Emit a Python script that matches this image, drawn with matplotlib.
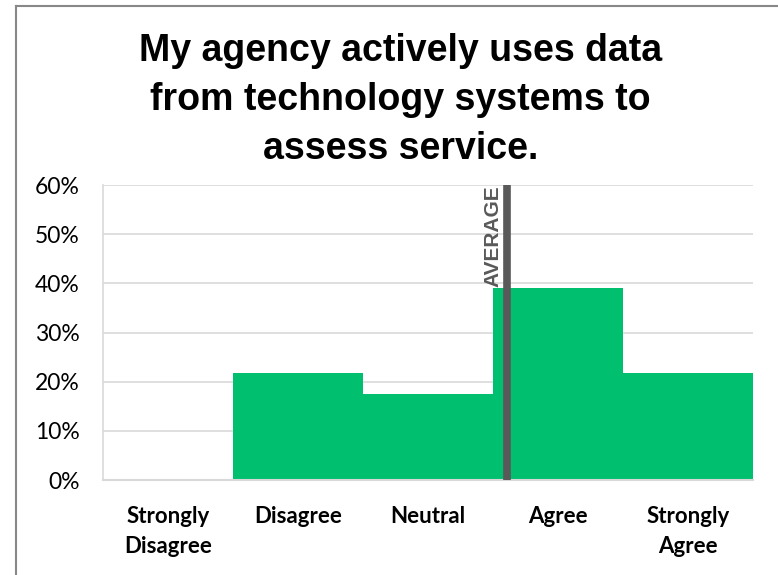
import matplotlib.pyplot as plt
from matplotlib.lines import Line2D
from matplotlib.ticker import PercentFormatter

# survey responses (share of respondents)
categories = ['Strongly\nDisagree', 'Disagree', 'Neutral', 'Agree', 'Strongly\nAgree']
shares = [0.0, 21.7, 17.4, 39.1, 21.7]
scores = [1, 2, 3, 4, 5]
average = sum(s * v for s, v in zip(scores, shares)) / sum(shares)

fig = plt.figure(figsize=(7.78, 5.75), dpi=100)
ax = fig.add_axes([0.1324, 0.1652, 0.8356, 0.513])

# bars touch each other, like a histogram
pos = [s - 0.5 for s in scores]
ax.bar(pos, shares, width=1.0, color='#00BF6F', zorder=2)

ax.set_xlim(0, 5)
ax.set_ylim(0, 60)
ax.set_yticks(range(0, 61, 10))
ax.yaxis.set_major_formatter(PercentFormatter(decimals=0))
ax.grid(axis='y', color='#D9D9D9', linewidth=1.2, zorder=0)
ax.set_xticks(pos)
ax.set_xticklabels(categories, fontsize=16, fontweight='bold', family='Lato',
                   linespacing=1.5)
for lab in ax.get_yticklabels():
    lab.set_fontsize(16.5)
    lab.set_family('Lato')
ax.tick_params(length=0)
ax.tick_params(axis='y', pad=17)
ax.tick_params(axis='x', pad=19)
for side in ['top', 'right']:
    ax.spines[side].set_visible(False)
ax.spines['left'].set_color('#D9D9D9')
ax.spines['bottom'].set_color('#D9D9D9')
ax.spines['left'].set_linewidth(1.2)
ax.spines['bottom'].set_linewidth(1.5)

# average marker
avg_x = average - 0.5
ax.axvline(avg_x, color='#595959', linewidth=5.5, zorder=3)
ax.text(avg_x - 0.035, 60, 'AVERAGE', rotation=90, ha='right', va='top',
        fontsize=15, fontweight='bold', color='#595959', family='Liberation Sans')

fig.text(0.515, 0.826,
         'My agency actively uses data\nfrom technology systems to\nassess service.',
         ha='center', va='center', fontsize=27, fontweight='bold',
         family='Liberation Sans', linespacing=1.45)

# chart frame
fig.add_artist(Line2D([15.5 / 778, 15.5 / 778], [0, 1 - 5.5 / 575],
                      transform=fig.transFigure, color='#888888', linewidth=1.5))
fig.add_artist(Line2D([15.5 / 778, 1], [1 - 5.5 / 575, 1 - 5.5 / 575],
                      transform=fig.transFigure, color='#888888', linewidth=1.5))

fig.savefig('out.png', dpi=100)
